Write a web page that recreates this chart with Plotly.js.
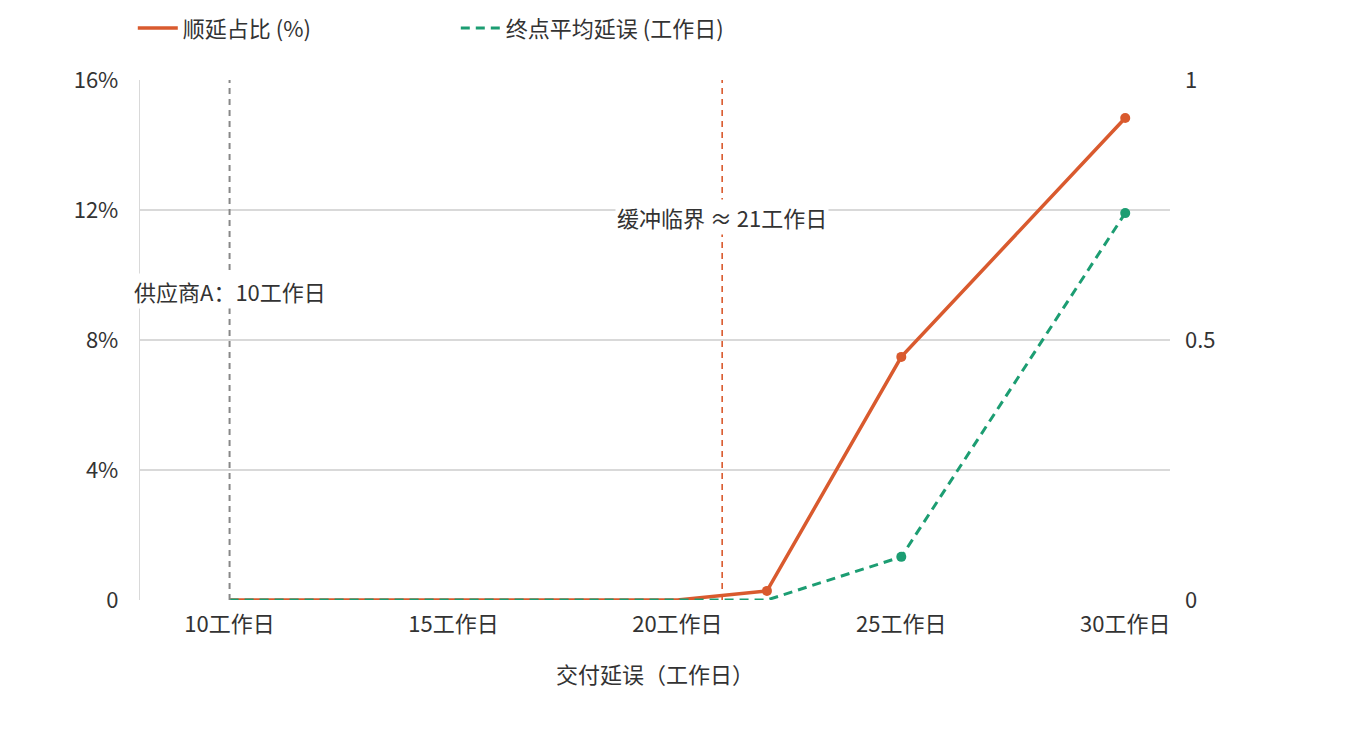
<!DOCTYPE html>
<html>
<head>
<meta charset="utf-8">
<script src="https://cdn.plot.ly/plotly-3.0.1.min.js"></script>
<style>
  html, body { margin: 0; padding: 0; background: #fff; }
  #chart { width: 1360px; height: 732px; }
</style>
</head>
<body>
<div id="chart"></div>
<script>
// delay in working days
var delayDays = [10, 20, 22, 25, 30];
// share of postponed orders (%)
var postponeShare = [0, 0, 0.28, 7.48, 14.83];
// average delay at end point (working days)
var endDelay = [0, 0, 0, 0.083, 0.744];

var xTicks = [10, 15, 20, 25, 30];
var xTickText = ["10工作日", "15工作日", "20工作日", "25工作日", "30工作日"];
var yTicks = [0, 4, 8, 12, 16];
var yTickText = ["0", "4%", "8%", "12%", "16%"];
var y2Ticks = [0, 0.5, 1];
var y2TickText = ["0", "0.5", "1"];

var supplierDay = 10;
var bufferDay = 21;

var orange = "#d95a2e";
var green = "#1c9d72";
var font = "Noto Sans CJK SC, sans-serif";
var fs = 22;

// markers only where the value is above zero
function nonZero(xs, ys) {
    var px = [], py = [];
    ys.forEach(function (v, i) { if (v > 0) { px.push(xs[i]); py.push(v); } });
    return { x: px, y: py };
}
var orangePts = nonZero(delayDays, postponeShare);
var greenPts = nonZero(delayDays, endDelay);

var data = [
    {
        type: "scatter", mode: "lines",
        name: "终点平均延误 (工作日)",
        x: delayDays, y: endDelay,
        line: { color: green, width: 3, dash: "9px,6px" },
        yaxis: "y2", legendrank: 2
    },
    {
        type: "scatter", mode: "markers", showlegend: false,
        x: greenPts.x, y: greenPts.y,
        marker: { color: green, size: 10 },
        yaxis: "y2"
    },
    {
        type: "scatter", mode: "lines",
        name: "顺延占比 (%)",
        x: delayDays, y: postponeShare,
        line: { color: orange, width: 3.5 },
        yaxis: "y", legendrank: 1
    },
    {
        type: "scatter", mode: "markers", showlegend: false,
        x: orangePts.x, y: orangePts.y,
        marker: { color: orange, size: 10 },
        yaxis: "y"
    }
];

var layout = {
    width: 1360,
    height: 732,
    paper_bgcolor: "#fff",
    plot_bgcolor: "#fff",
    font: { family: font, size: fs, color: "#333" },
    margin: { l: 140, r: 190, t: 80, b: 132 },
    showlegend: true,
    legend: {
        orientation: "h",
        x: -0.007,
        xref: "paper",
        xanchor: "left",
        y: 0.99,
        yref: "container",
        yanchor: "top",
        itemwidth: 40,
        entrywidth: 268,
        entrywidthmode: "pixels",
        font: { family: font, size: fs, color: "#333" }
    },
    xaxis: {
        range: [8, 31],
        tickvals: xTicks,
        ticktext: xTickText,
        showgrid: false,
        zeroline: false,
        showline: false,
        ticks: "",
        ticklabelstandoff: 9,
        title: { text: "交付延误（工作日）", font: { family: font, size: fs, color: "#333" }, standoff: 30 }
    },
    yaxis: {
        range: [0, 16],
        tickvals: yTicks,
        ticktext: yTickText,
        showgrid: true,
        gridcolor: "#d9d9d9",
        gridwidth: 1.2,
        zeroline: false,
        showline: true,
        linecolor: "#d9d9d9",
        linewidth: 1.2,
        ticks: "",
        ticklabelstandoff: 16
    },
    yaxis2: {
        range: [0, 1],
        tickvals: y2Ticks,
        ticktext: y2TickText,
        overlaying: "y",
        side: "right",
        showgrid: false,
        zeroline: false,
        showline: false,
        ticks: "",
        ticklabelstandoff: 14
    },
    shapes: [
        {
            type: "line", xref: "x", yref: "paper",
            x0: supplierDay, x1: supplierDay, y0: 0, y1: 1,
            line: { color: "#888", width: 2, dash: "6px,5px" }
        },
        {
            type: "line", xref: "x", yref: "paper",
            x0: bufferDay, x1: bufferDay, y0: 0, y1: 1,
            line: { color: orange, width: 1.6, dash: "6px,5px" }
        }
    ],
    annotations: [
        {
            x: supplierDay, y: 9.5, xref: "x", yref: "y",
            text: "供应商A：10工作日", showarrow: false,
            bgcolor: "#fff", font: { family: font, size: fs, color: "#333" }
        },
        {
            x: bufferDay, y: 11.8, xref: "x", yref: "y",
            text: "缓冲临界 ≈ 21工作日", showarrow: false,
            bgcolor: "#fff", font: { family: font, size: fs, color: "#333" }
        }
    ]
};

Plotly.newPlot(document.getElementById("chart"), data, layout, { displayModeBar: false, staticPlot: true });
</script>
</body>
</html>
